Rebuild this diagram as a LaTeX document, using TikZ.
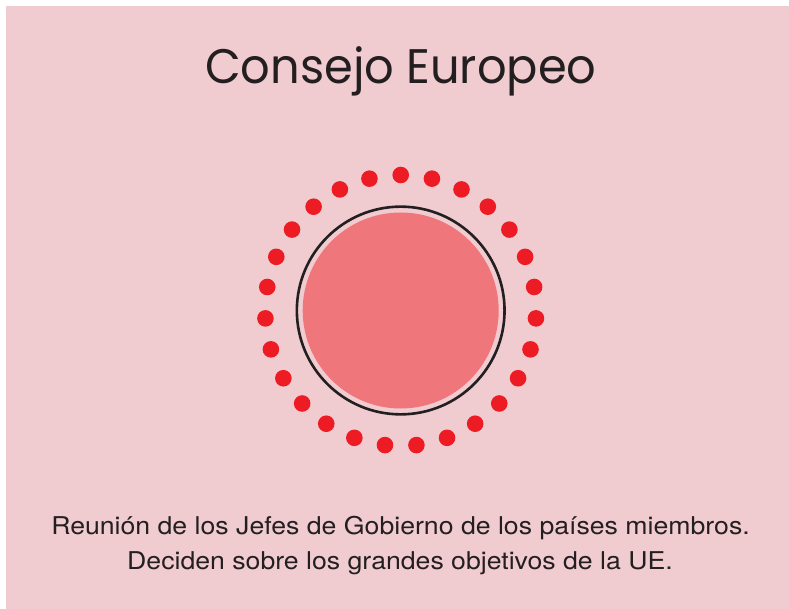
\documentclass[tikz,border=0pt]{standalone}
\usepackage{fontspec}
\usetikzlibrary{calc}
\newfontfamily\titlefont[FakeStretch=0.955]{Poppins}
\newfontfamily\bodyfont[FakeStretch=1.088]{TeX Gyre Heros}
\definecolor{bgpink}{RGB}{240,203,208}
\definecolor{diskred}{RGB}{239,118,122}
\definecolor{dotred}{RGB}{237,28,36}
\definecolor{ink}{RGB}{35,31,32}

\begin{document}
\begin{tikzpicture}[x=1pt,y=-1pt]

    \tikzset{dot/.style = {shape=circle,fill=dotred,inner sep=0pt,minimum size=16.6pt}}
    \tikzset{caption/.style = {anchor=base,inner sep=0pt,text=ink}}
    \useasboundingbox (0,0) rectangle (789,609);
    \fill[bgpink] (6,6) rectangle (789,609);

    \node[caption,font=\titlefont\fontsize{48.5}{58}\selectfont] (title) at (400.8,84) {Consejo Europeo};

    \node[shape=circle,draw=ink,line width=2.6pt,minimum size=207.7pt,inner sep=0pt] (ring) at (400.7,310.5) {};
    \node[shape=circle,fill=diskred,minimum size=196pt,inner sep=0pt] (disk) at (ring.center) {};
    \foreach \i in {0,...,26}
        \node[dot] (d\i) at ($(ring.center)+(90-\i*360/27:135.5pt)$) {};

    \node[caption,font=\bodyfont\fontsize{24.5}{29}\selectfont] (line1) at (400.5,534) {Reunión de los Jefes de Gobierno de los países miembros.};
    \node[caption,font=\bodyfont\fontsize{24.5}{29}\selectfont] (line2) at (400,569) {Deciden sobre los grandes objetivos de la UE.};

\end{tikzpicture}
\end{document}
